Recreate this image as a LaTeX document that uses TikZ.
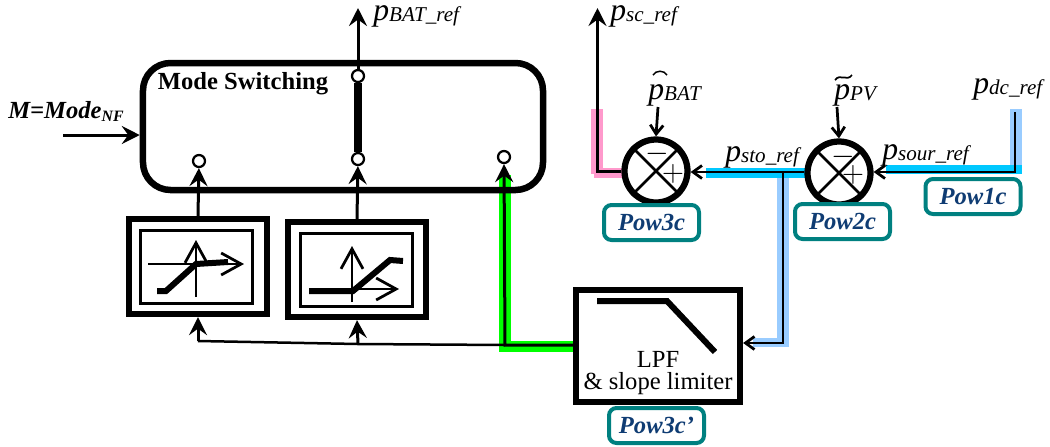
\documentclass[tikz,border=0pt]{standalone}
\usepackage{fontspec}
\setmainfont{Liberation Serif}
\usetikzlibrary{arrows.meta}
\definecolor{badgeteal}{RGB}{0,128,128}
\definecolor{badgetext}{RGB}{15,60,115}
\definecolor{sigpink}{RGB}{255,153,204}
\definecolor{sigcyan}{RGB}{0,200,255}
\definecolor{sigblue}{RGB}{153,204,255}
\definecolor{siggreen}{RGB}{0,255,0}
\newcommand{\psig}[1]{{\itshape\fontsize{18}{18}\selectfont p\raisebox{-0.1ex}{\fontsize{12}{12}\selectfont #1}}}
\tikzset{
modebox/.style={draw=black, rounded corners=5.5mm, line width=1.3mm, minimum width=8cm, minimum height=2.54cm},
satouter/.style={draw=black, line width=1.25mm, minimum width=2.76cm, minimum height=1.9cm},
satinner/.style={draw=black, line width=0.6mm, minimum width=2.24cm, minimum height=1.46cm},
terminal/.style={circle, draw=black, fill=white, line width=0.45mm, minimum size=2.4mm, inner sep=0pt},
sumnode/.style={circle, draw=black, fill=white, line width=1.25mm, minimum size=1.26cm, inner sep=0pt},
badge/.style={draw=badgeteal, fill=white, rounded corners=1.5mm, line width=0.8mm, minimum width=1.9cm, minimum height=0.7cm, inner sep=0pt, font=\fontsize{14}{14}\selectfont\bfseries\itshape, text=badgetext},
lpfbox/.style={draw=black, line width=1.25mm, minimum width=3.28cm, minimum height=2.24cm},
sigline/.style={line width=0.6mm, -{Stealth[length=3.6mm, width=3.6mm, inset=1.3mm]}},
sumarrow/.style={line width=0.55mm, -{Straight Barb[length=1.8mm, width=2.6mm]}},
axisarrow/.style={line width=0.55mm, -{Straight Barb[length=4mm, width=4.4mm]}},
curve/.style={line width=1.2mm, line join=miter},
crossline/.style={line width=0.5mm},
siglabel/.style={anchor=base west, inner sep=0pt},
bandpink/.style={fill=sigpink},
bandcyan/.style={fill=sigcyan},
bandblue/.style={fill=sigblue},
bandgreen/.style={fill=siggreen}
}
\begin{document}
\begin{tikzpicture}[x=0.2mm,y=-0.2mm]
\useasboundingbox (0,0) rectangle (1050,446);

% coloured bands under the signal lines
\fill[bandpink] (591,109) rectangle (603,174);
\fill[bandpink] (594,168) rectangle (625,178);
\fill[bandcyan] (706,168) rectangle (806,178);
\fill[bandblue] (777,178) rectangle (789,347);
\fill[bandblue] (753,338) rectangle (777,347);
\fill[bandblue] (1010,109) rectangle (1022,165);
\fill[bandcyan] (886,165) rectangle (1022,174);
\fill[bandgreen] (499,175) rectangle (511,352);
\fill[bandgreen] (499,341) rectangle (575,352);

\node[modebox] (mode) at (343,126.5) {};
\node[font=\fontsize{14}{14}\selectfont\bfseries] (modetxt) at (243,84) {Mode Switching};

\node[terminal] (t1) at (199,161) {};
\node[terminal] (t2) at (358,159) {};
\node[terminal] (t3) at (504,157) {};
\node[terminal] (tout) at (358,76) {};
\draw[line width=1.7mm] (tout) -- (t2);

\node[satouter] (sat1) at (198,266.5) {};
\node[satinner] (sat1in) at (196.5,266.5) {};
\node[satouter] (sat2) at (357,269.5) {};
\node[satinner] (sat2in) at (356.5,269.5) {};

% saturation curves
\coordinate (a1w) at (148,264);
\coordinate (a1e) at (244,264);
\coordinate (a1s) at (196,297);
\coordinate (a1n) at (196,240);
\draw[axisarrow] (a1w) -- (a1e);
\draw[axisarrow] (a1s) -- (a1n);
\draw[curve] (157,291) -- (166,291) -- (196,264) -- (228,262);
\coordinate (a2w) at (309,289);
\coordinate (a2e) at (399,289);
\coordinate (a2s) at (352,302);
\coordinate (a2n) at (352,246);
\draw[axisarrow] (a2w) -- (a2e);
\draw[axisarrow] (a2s) -- (a2n);
\draw[curve] (309,291) -- (353,291) -- (390,260) -- (403,261);

\node[lpfbox] (lpf) at (658,346) {};
\draw[curve] (597,301) -- (667,301) -- (715,352);
\node[font=\fontsize{14}{14}\selectfont, align=center] (lpftxt) at (658,373) {LPF\\[-1pt]\& slope limiter};

\node[sumnode] (sum1) at (656,171) {};
\node[sumnode] (sum2) at (839,173) {};
\foreach \s in {sum1,sum2} {
  \draw[crossline] (\s.45) -- (\s.225);
  \draw[crossline] (\s.135) -- (\s.315);
}
\node[font=\fontsize{16}{16}\selectfont] (s1m) at (657,154) {$-$};
\node[font=\fontsize{16}{16}\selectfont] (s1p) at (673,174) {$+$};
\node[font=\fontsize{16}{16}\selectfont] (s2m) at (843,157) {$-$};
\node[font=\fontsize{16}{16}\selectfont] (s2p) at (853,175) {$+$};

\node[badge] (pow3) at (651.5,222.5) {Pow3c};
\node[badge] (pow2) at (842.5,221.5) {Pow2c};
\node[badge] (pow1) at (973,196.5) {Pow1c};
\node[badge] (pow3b) at (656.5,425.5) {Pow3c’};

% labels
\node[siglabel] (lbat) at (373,20) {\psig{BAT\_ref}};
\node[siglabel] (lsc) at (610,20) {\psig{sc\_ref}};
\node[siglabel] (lbathat) at (648,99) {\psig{BAT}};
\node[siglabel] (lpv) at (834,99) {\psig{PV}};
\node[siglabel] (ldc) at (973,93) {\psig{dc\_ref}};
\node[siglabel] (lsour) at (882,159) {\psig{sour\_ref}};
\node[siglabel] (lsto) at (725,161) {\psig{sto\_ref}};
\node[siglabel] (lmode) at (8,118) {\fontsize{14}{14}\selectfont\bfseries\itshape M=Mode\raisebox{-0.3ex}{\fontsize{9}{9}\selectfont NF}};
\draw[line width=0.3mm] (653,75) .. controls (656,70) and (664,70) .. (667,75);
\draw[line width=0.35mm] (835,80) .. controls (840,73) and (847,82) .. (852,75);

% connectors
\coordinate (batout) at (358,8);
\coordinate (scout) at (597.5,8);
\coordinate (modein) at (63,135);
\coordinate (batin) at (658,107);
\coordinate (pvin) at (837,107);
\coordinate (dcin) at (1015,112);
\coordinate (dccorner) at (1015,172);
\coordinate (tee) at (783,172);
\coordinate (feedl) at (198,341);
\coordinate (feedr) at (505,345);
\coordinate (feedm) at (358,344);
\coordinate (lpfout) at (505,345);
\coordinate (lpfin) at (783,343);

\draw[sigline] (tout) -- (batout);
\draw[sigline] (sum1.west) -- (597.5,171) -- (scout);
\draw[sigline] (modein) -- (mode.west |- modein);
\draw[sigline] (sat1.north) -- (t1);
\draw[sigline] (sat2.north) -- (t2);
\draw[sigline] (lpf.west |- lpfout) -- (lpfout) -- (t3);
\draw[line width=0.5mm] (feedr) -- (feedm) -- (feedl);
\draw[sigline] (feedl) -- (sat1.south);
\draw[sigline] (feedm) -- (sat2.south);
\draw[sumarrow] (batin) -- (sum1.north);
\draw[sumarrow] (pvin) -- (sum2.north);
\draw[sumarrow] (dcin) -- (dccorner) -- (sum2.east |- dccorner);
\draw[sumarrow] (sum2.west |- tee) -- (sum1.east |- tee);
\draw[sumarrow] (tee) -- (lpfin) -- (lpf.east |- lpfin);
\end{tikzpicture}
\end{document}
